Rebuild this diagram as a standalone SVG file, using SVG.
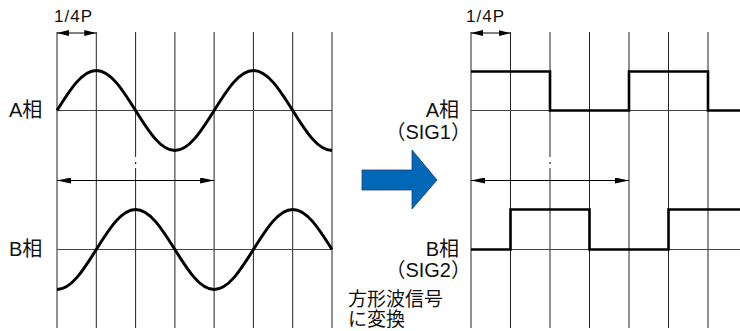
<svg xmlns="http://www.w3.org/2000/svg" width="740" height="331" viewBox="0 0 740 331">
<defs>
<style>
.grid{stroke:#222;stroke-width:1;fill:none}
.axis{stroke:#444;stroke-width:1;fill:none}
.wave{stroke:#000;stroke-width:3;fill:none;stroke-linejoin:round}
.sq{stroke:#000;stroke-width:2.6;fill:none;stroke-linejoin:miter}
.dim{stroke:#000;stroke-width:1;fill:none}
.t{font-family:"Liberation Sans","Noto Sans CJK JP",sans-serif;fill:#111}
.lbl{font-size:20px}
.sig{font-size:20px}
.q{font-size:17px;letter-spacing:1px}
.note{font-size:19px}
</style>
<marker id="ah" viewBox="0 0 14 6" refX="14" refY="3" markerWidth="14" markerHeight="6" orient="auto-start-reverse" markerUnits="userSpaceOnUse"><path d="M0,0 L14,3 L0,6 z" fill="#000"/></marker>
<marker id="ahs" viewBox="0 0 12 6" refX="12" refY="3" markerWidth="12" markerHeight="6" orient="auto-start-reverse" markerUnits="userSpaceOnUse"><path d="M0,0 L12,3 L0,6 z" fill="#000"/></marker>
</defs>
<rect width="740" height="331" fill="#fff"/>

<g id="left-grid">
<path class="grid" d="M57,32V328 M96.3,32V328 M135.6,32V157 M135.6,168V328 M174.9,32V328 M214.1,32V328 M253.4,32V328 M292.7,32V328 M332,32V328"/>
<rect x="135" y="162" width="1.2" height="2" fill="#222"/>
<path class="axis" d="M57,110.5H332 M57,249.5H332"/>
</g>

<g id="right-grid">
<path class="grid" d="M471,32V328 M510.5,32V328 M550,32V157 M550,168V328 M589.5,32V328 M629,32V328 M668.5,32V328 M708,32V328"/>
<rect x="549.4" y="162" width="1.2" height="2" fill="#222"/>
<path class="axis" d="M471,110.5H740 M471,249.5H740"/>
</g>

<g id="wave-a">
<path class="wave" d="M57,110.5 C70.13,89.5 82.19,70.5 96.29,70.5 C110.39,70.5 122.45,89.5 135.57,110.5 C148.70,131.5 160.76,150.5 174.86,150.5 C188.96,150.5 201.02,131.5 214.14,110.5 C227.27,89.5 239.33,70.5 253.43,70.5 C267.53,70.5 279.59,89.5 292.71,110.5 C305.84,131.5 317.90,150.5 332,150.5"/>
</g>
<g id="wave-b">
<path class="wave" d="M57,289.5 C71.10,289.5 83.16,270.5 96.29,249.5 C109.42,228.5 121.48,209.5 135.57,209.5 C149.67,209.5 161.73,228.5 174.86,249.5 C187.99,270.5 200.05,289.5 214.14,289.5 C228.24,289.5 240.30,270.5 253.43,249.5 C266.56,228.5 278.62,209.5 292.71,209.5 C306.81,209.5 318.87,228.5 332,249.5"/>
</g>
<g id="square-a">
<path class="sq" d="M471,71.5H550V110.5H629V71.5H708V110.5H740"/>
</g>
<g id="square-b">
<path class="sq" d="M471,249.5H510.5V209.5H589.5V249.5H668.5V209.5H740"/>
</g>

<g id="connectors">
<line class="dim" x1="57" y1="33" x2="96.3" y2="33" marker-start="url(#ahs)" marker-end="url(#ahs)"/>
<line class="dim" x1="471" y1="33" x2="510.5" y2="33" marker-start="url(#ahs)" marker-end="url(#ahs)"/>
<line class="dim" x1="57" y1="180.5" x2="214.1" y2="180.5" marker-start="url(#ah)" marker-end="url(#ah)"/>
<line class="dim" x1="471" y1="180.5" x2="629" y2="180.5" marker-start="url(#ah)" marker-end="url(#ah)"/>
</g>

<g id="convert-arrow">
<polygon points="362,170 412,170 412,150 437,180 412,209 412,190 362,190" fill="#0068b6" stroke="#1b3f73" stroke-width="0.8"/>
</g>

<g id="labels">
<text class="t q" x="54" y="22">1/4P</text>
<text class="t q" x="466" y="22">1/4P</text>
<text class="t lbl" x="9" y="117">A相</text>
<text class="t lbl" x="9" y="256">B相</text>
<text class="t lbl" x="459" y="117" text-anchor="end">A相</text>
<text class="t sig" x="471" y="139" text-anchor="end">（SIG1）</text>
<text class="t lbl" x="459" y="256" text-anchor="end">B相</text>
<text class="t sig" x="471" y="277" text-anchor="end">（SIG2）</text>
<text class="t note" x="348" y="306">方形波信号</text>
<text class="t note" x="348" y="326">に変換</text>
</g>
</svg>
